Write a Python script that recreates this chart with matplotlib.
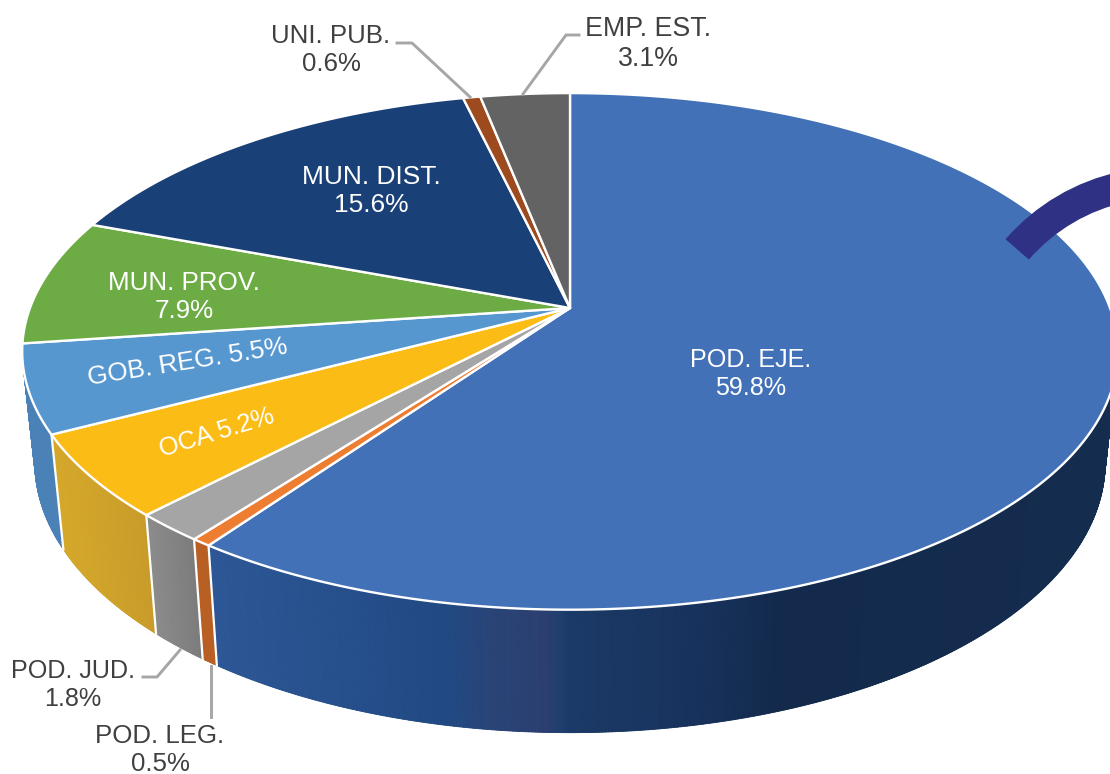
import numpy as np
import matplotlib
matplotlib.use('Agg')
import matplotlib.pyplot as plt
from matplotlib.collections import PolyCollection
from matplotlib.colors import to_rgb
from matplotlib.patches import Polygon, Wedge

categories = ['POD. EJE.', 'POD. LEG.', 'POD. JUD.', 'OCA', 'GOB. REG.',
              'MUN. PROV.', 'MUN. DIST.', 'UNI. PUB.', 'EMP. EST.']
values = [59.8, 0.5, 1.8, 5.2, 5.5, 7.9, 15.6, 0.6, 3.1]

top_colors = ['#4371b7', '#ed7d31', '#a5a5a5', '#fbbc15', '#5797d0',
              '#6dab45', '#1a4177', '#9e4a1f', '#636363']
#wall colours left to right, only the front five slices show a wall
wall_colors = [['#2d5796', '#214a84', '#2a4478', '#2c3f70', '#204070', '#1c3a68', '#17325c', '#132a4c', '#142c4e'],
               ['#b85f24', '#b85f24'],
               ['#8c8c8c', '#7c7c7c'],
               ['#d6a92c', '#c99c2a'],
               ['#4a82b8', '#4a82b8']]
#x pixel of each colour on the big wall
big_wall_x = [215, 441, 490, 545, 558, 570, 700, 780, 1110]

#pie apex and perspective of the tilted disc, in pixels
cx, cy = 570, 308
rx, ry, persp = 540, 251, 0.168


def top_point(t):
    #t is the clockwise angle from 12 o'clock
    u = np.sin(t)
    v = np.cos(t)
    d = 1 + persp * v
    return cx + rx * u / d, cy - ry * v / d


def bottom_point(t):
    x, y = top_point(t)
    return 570 + (x - 570) * 0.977, 733 + (y - 610) * 1.046


def wall_color(colors, stops, x):
    cols = np.array([to_rgb(c) for c in colors])
    return [np.interp(x, stops, cols[:, i]) for i in range(3)]


fig = plt.figure(figsize=(11.1, 7.74), dpi=100)
ax = fig.add_axes([0, 0, 1, 1])
ax.set_xlim(0, 1110)
ax.set_ylim(774, 0)
ax.axis('off')

edges = np.radians(np.cumsum([0] + values) * 3.6)

#side walls first, the top goes over them
for i in range(len(wall_colors)):
    ts = np.linspace(edges[i], edges[i + 1], max(int(values[i] * 12), 6))
    tx, ty = top_point(ts)
    bx, by = bottom_point(ts)
    if i == 0:
        stops = big_wall_x
    else:
        stops = np.linspace(tx.min(), tx.max(), len(wall_colors[i]))
    quads = []
    cols = []
    for j in range(len(ts) - 1):
        quads.append([(tx[j], ty[j]), (tx[j + 1], ty[j + 1]),
                      (bx[j + 1], by[j + 1]), (bx[j], by[j])])
        cols.append(wall_color(wall_colors[i], stops, (tx[j] + tx[j + 1]) / 2))
    #flat shape under the strips stops streaks between them
    under = list(zip(tx, ty)) + list(zip(bx[::-1], by[::-1]))
    ax.add_patch(Polygon(under, closed=True, facecolor=wall_colors[i][-1], edgecolor='none', zorder=1))
    ax.add_collection(PolyCollection(quads, facecolors=cols, edgecolors=cols, linewidths=0.6, zorder=1))
    #white seam where the walls meet
    if i >= 1:
        ax.plot([tx[0], bx[0]], [ty[0], by[0]], color='white', lw=1.6, zorder=2)

for i in range(len(values)):
    ts = np.linspace(edges[i], edges[i + 1], max(int(values[i] * 8), 6))
    tx, ty = top_point(ts)
    pts = [(cx, cy)] + list(zip(tx, ty))
    ax.add_patch(Polygon(pts, closed=True, facecolor=top_colors[i], edgecolor='white', lw=1.7, joinstyle='round', zorder=3))

#dark arc on the right, comes from the page design
ax.add_patch(Wedge((1164, 377), 210, 221, 295, width=31, facecolor='#2f3185', edgecolor='none', zorder=4))

#leader lines
line_color = '#a6a6a6'
ax.plot([397, 412, 470], [43, 43, 97], color=line_color, lw=2.1, zorder=5)
ax.plot([579, 566, 523], [35, 35, 94], color=line_color, lw=2.1, zorder=5)
ax.plot([143, 157, 180], [677, 677, 650], color=line_color, lw=2.1, zorder=5)
ax.plot([211, 211], [666, 717], color=line_color, lw=2.1, zorder=5)

#x, y, rotation, colour, separator between name and value, font size
label_pos = [(751, 374, 0, 'white', '\n', 18.1),
             (160, 750, 0, '#404040', '\n', 18.6),
             (73, 685, 0, '#404040', '\n', 18.1),
             (217, 433, 17, 'white', ' ', 18.4),
             (188, 362, 9, 'white', ' ', 18.7),
             (184, 297, 0, 'white', '\n', 18.7),
             (371, 191, 0, 'white', '\n', 19),
             (331, 50, 0, '#404040', '\n', 18.6),
             (648, 44, 0, '#404040', '\n', 19.3)]

for name, val, (x, y, rot, col, sep, size) in zip(categories, values, label_pos):
    ax.text(x, y, f'{name}{sep}{val}%', ha='center', va='center', rotation=rot,
            rotation_mode='anchor', color=col, fontsize=size, family='Liberation Sans',
            linespacing=1.22, multialignment='center', zorder=6)

fig.savefig('out.png', dpi=100, facecolor='white')
